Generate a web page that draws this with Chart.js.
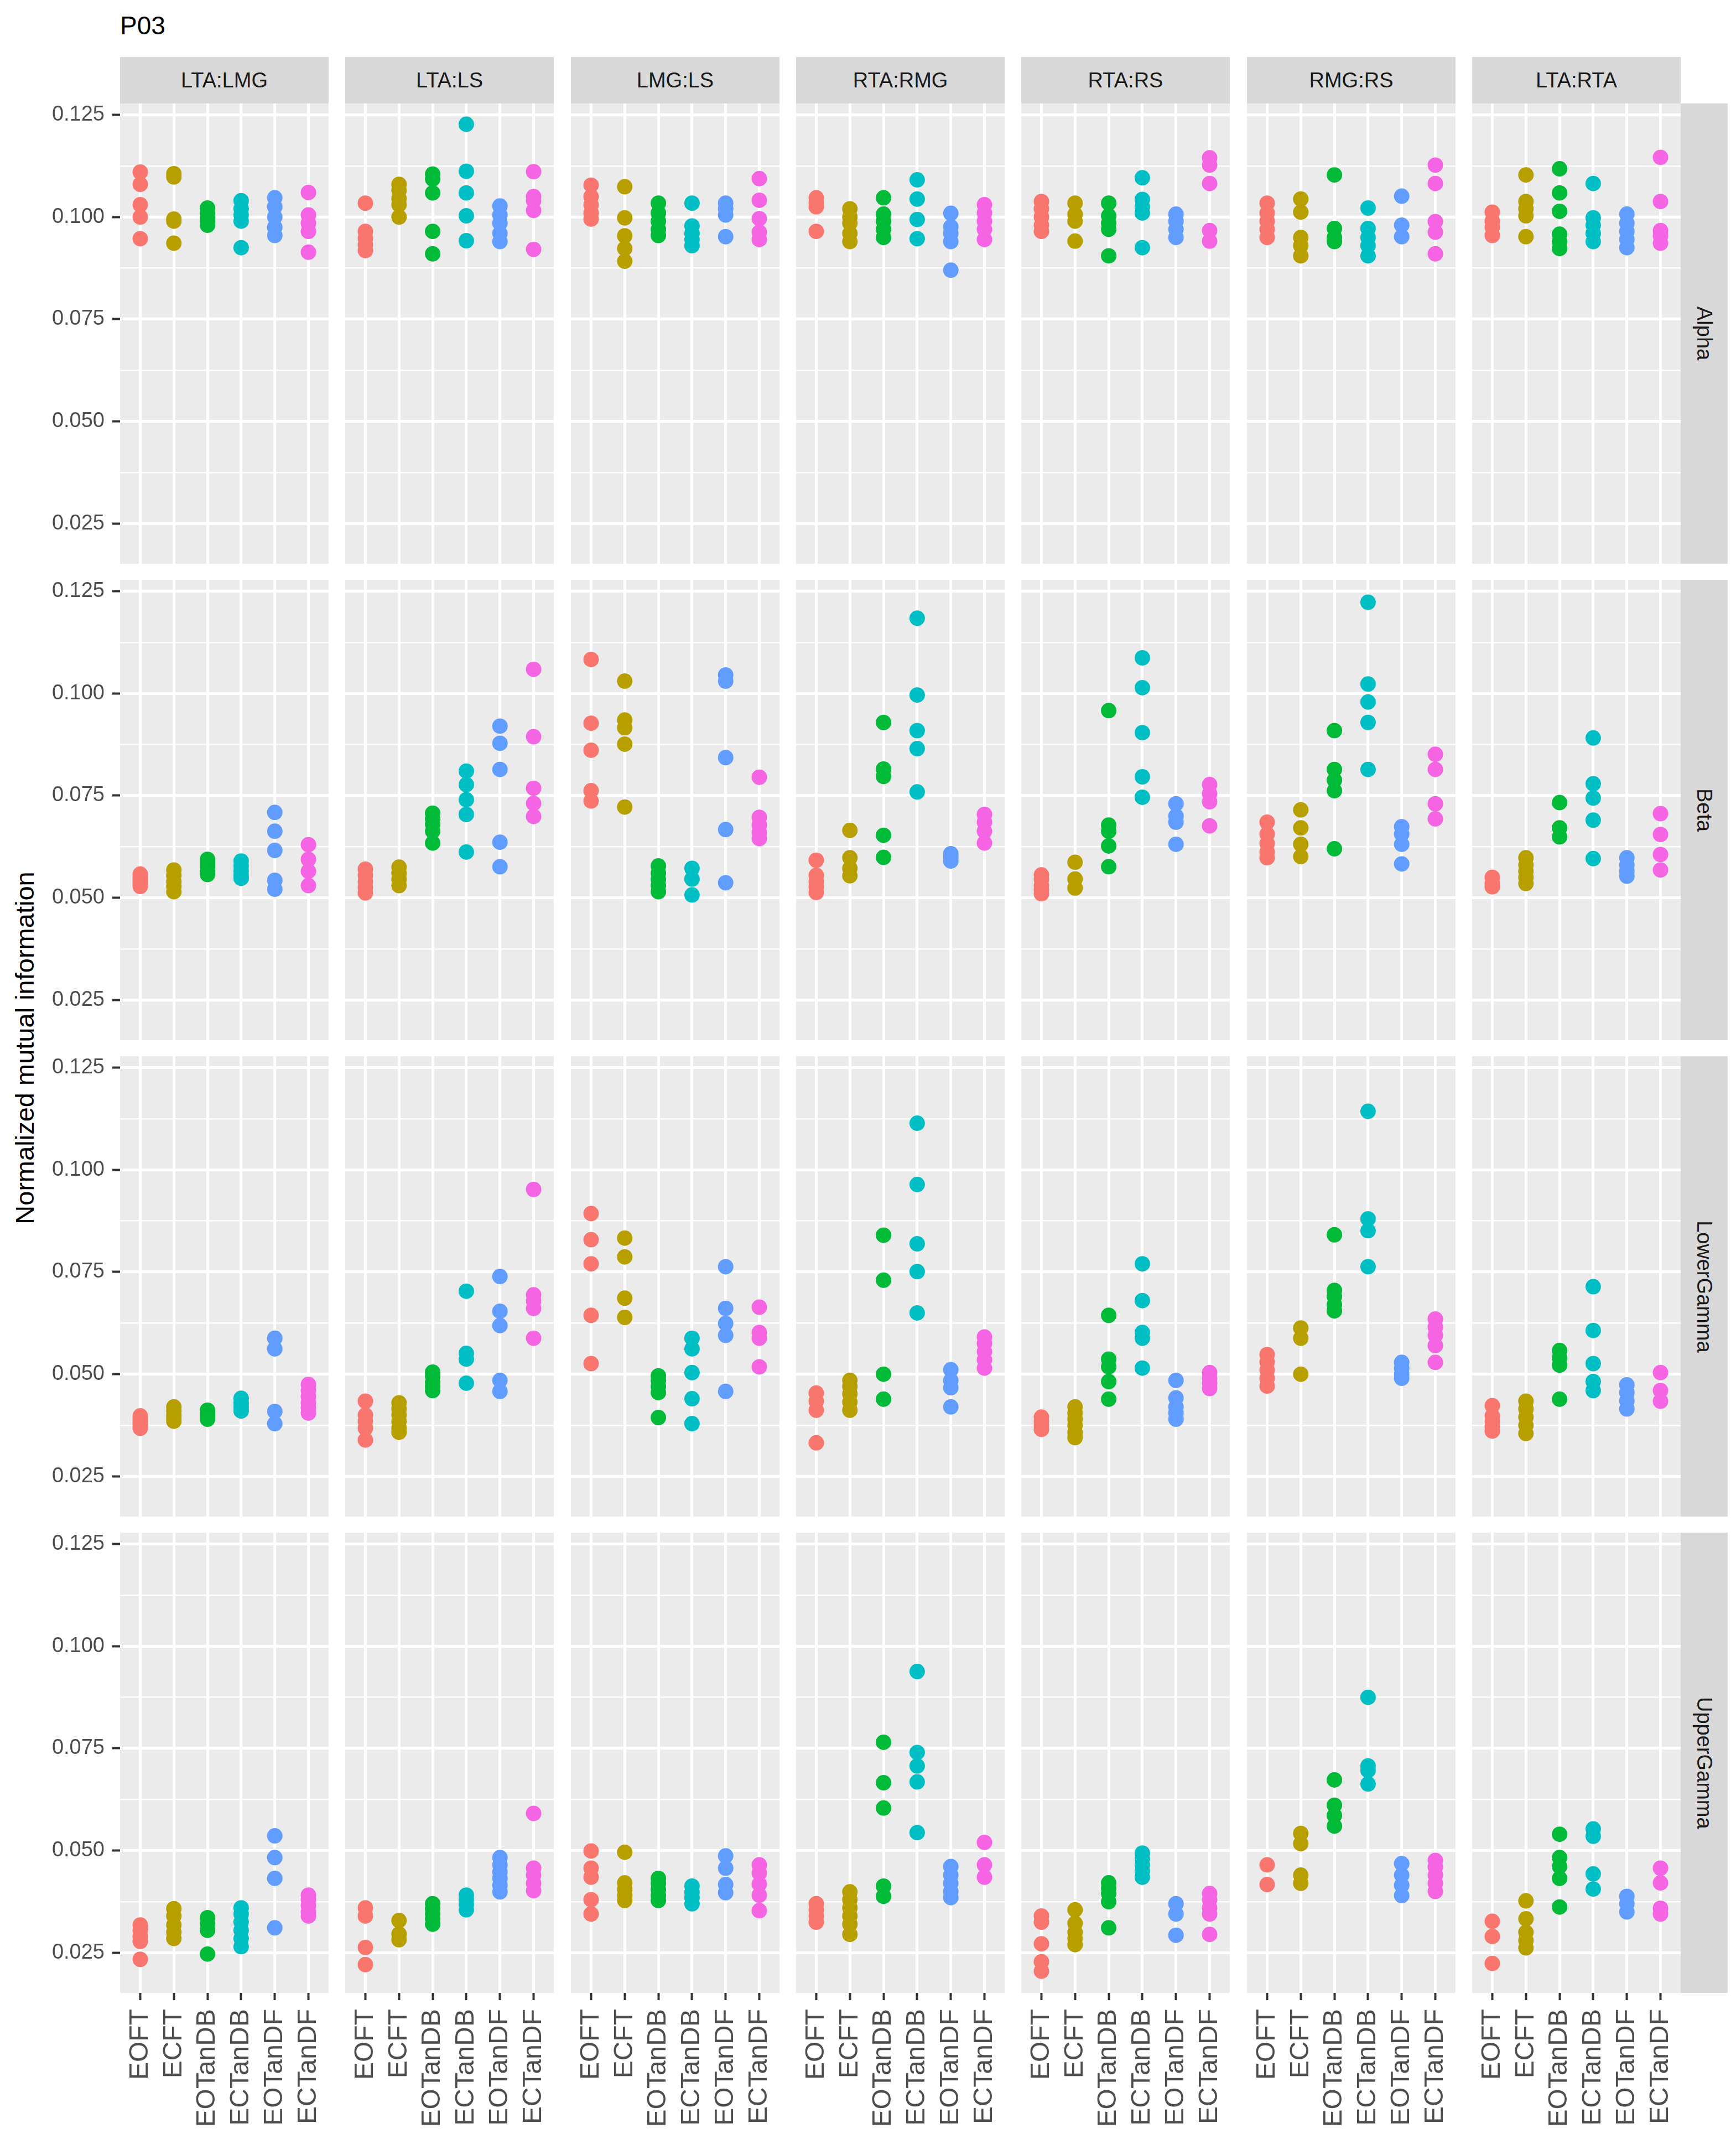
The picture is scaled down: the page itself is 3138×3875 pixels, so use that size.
<!DOCTYPE html>
<html>
<head>
<meta charset="utf-8">
<title>P03</title>
<script src="https://cdn.jsdelivr.net/npm/chart.js@4.4.1/dist/chart.umd.min.js"></script>
<style>
html, body { margin: 0; padding: 0; background: #ffffff; }
#page {
    position: relative;
    width: 3138px;
    height: 3875px;
    overflow: hidden;
    font-family: "Liberation Sans", Arial, Helvetica, sans-serif;
}
#page canvas { position: absolute; }
.title { position: absolute; left: 217px; top: 23px; font-size: 46px; line-height: 1; color: #000; }
.strip-top {
    position: absolute; background: #d9d9d9; color: #1a1a1a; font-size: 38px;
    display: flex; align-items: center; justify-content: center;
}
.strip-right {
    position: absolute; background: #d9d9d9; color: #1a1a1a; font-size: 38px;
    display: flex; align-items: center; justify-content: center;
}
.strip-right span { writing-mode: vertical-rl; }
.ytitle {
    position: absolute; left: 44px; top: 1894px; font-size: 47px; color: #000;
    white-space: nowrap; transform: translate(-50%, -50%) rotate(-90deg);
}
</style>
</head>
<body>
<div id="page">
    <div class="title">P03</div>
    <div class="ytitle">Normalized mutual information</div>
</div>

<script>

const categories = ["EOFT", "ECFT", "EOTanDB", "ECTanDB", "EOTanDF", "ECTanDF"];
const pairs = ["LTA:LMG", "LTA:LS", "LMG:LS", "RTA:RMG", "RTA:RS", "RMG:RS", "LTA:RTA"];
const bands = ["Alpha", "Beta", "LowerGamma", "UpperGamma"];
const yTicks = [0.025, 0.0375, 0.05, 0.0625, 0.075, 0.0875, 0.1, 0.1125, 0.125];
const yLimits = [0.01518, 0.12778];
const groupColours = ["#F8766D", "#B79F00", "#00BA38", "#00BFC4", "#619CFF", "#F564E3"];

// one array per panel, one list per category (EOFT ... ECTanDF)

// Alpha
const alphaLTA_LMG = [
    [0.111, 0.108, 0.103, 0.100, 0.0947],
    [0.1106, 0.1098, 0.0995, 0.0990, 0.0936],
    [0.1022, 0.1010, 0.0998, 0.0990, 0.0980],
    [0.1040, 0.1020, 0.1005, 0.0990, 0.0925],
    [0.1047, 0.1025, 0.1000, 0.0975, 0.0955],
    [0.106, 0.1005, 0.0985, 0.0965, 0.0914]
];
const alphaLTA_LS = [
    [0.1034, 0.0965, 0.0948, 0.0932, 0.0918],
    [0.1080, 0.1065, 0.1045, 0.1030, 0.1000],
    [0.1105, 0.1093, 0.1059, 0.0965, 0.0910],
    [0.1227, 0.1112, 0.1059, 0.1003, 0.0942],
    [0.1027, 0.1005, 0.0985, 0.0960, 0.0940],
    [0.1111, 0.1050, 0.1040, 0.1016, 0.0921]
];
const alphaLMG_LS = [
    [0.1078, 0.1050, 0.1030, 0.1010, 0.0995],
    [0.1074, 0.0998, 0.0954, 0.0923, 0.0892],
    [0.1034, 0.1010, 0.0990, 0.0970, 0.0955],
    [0.1034, 0.0978, 0.0960, 0.0945, 0.0930],
    [0.1034, 0.1020, 0.1005, 0.0952],
    [0.1094, 0.1041, 0.0996, 0.0963, 0.0945]
];
const alphaRTA_RMG = [
    [0.1047, 0.1035, 0.1025, 0.0965],
    [0.1020, 0.1000, 0.0985, 0.0960, 0.0940],
    [0.1047, 0.1007, 0.0990, 0.0970, 0.0950],
    [0.1091, 0.1044, 0.0994, 0.0947],
    [0.1009, 0.0976, 0.0960, 0.0940, 0.0870],
    [0.1030, 0.1010, 0.0990, 0.0970, 0.0945]
];
const alphaRTA_RS = [
    [0.1038, 0.1020, 0.1000, 0.0980, 0.0965],
    [0.1034, 0.1007, 0.0990, 0.0941],
    [0.1034, 0.1003, 0.0985, 0.0970, 0.0905],
    [0.1096, 0.1043, 0.1025, 0.1010, 0.0925],
    [0.1007, 0.0990, 0.0970, 0.0950],
    [0.1145, 0.1127, 0.1082, 0.0967, 0.0941]
];
const alphaRMG_RS = [
    [0.1034, 0.1010, 0.0990, 0.0970, 0.0950],
    [0.1044, 0.1012, 0.0950, 0.0930, 0.0905],
    [0.1103, 0.0972, 0.0950, 0.0940],
    [0.1022, 0.0972, 0.0950, 0.0930, 0.0905],
    [0.1051, 0.0980, 0.0952],
    [0.1127, 0.1082, 0.0989, 0.0963, 0.0910]
];
const alphaLTA_RTA = [
    [0.1012, 0.0990, 0.0975, 0.0955],
    [0.1103, 0.1038, 0.1020, 0.1003, 0.0952],
    [0.1118, 0.1059, 0.1014, 0.0958, 0.0940, 0.0923],
    [0.1082, 0.0998, 0.0980, 0.0960, 0.0940],
    [0.1007, 0.0985, 0.0965, 0.0945, 0.0925],
    [0.1146, 0.1038, 0.0967, 0.0954, 0.0936]
];

// Beta
const betaLTA_LMG = [
    [0.0558, 0.0550, 0.0543, 0.0535, 0.0528],
    [0.0568, 0.0555, 0.0540, 0.0528, 0.0515],
    [0.0594, 0.0585, 0.0576, 0.0565, 0.0557],
    [0.0590, 0.0578, 0.0566, 0.0555, 0.0548],
    [0.0709, 0.0663, 0.0616, 0.0543, 0.0521],
    [0.0630, 0.0594, 0.0565, 0.0530]
];
const betaLTA_LS = [
    [0.0570, 0.0555, 0.0540, 0.0525, 0.0512],
    [0.0575, 0.0560, 0.0545, 0.0530],
    [0.0707, 0.0693, 0.0680, 0.0663, 0.0634],
    [0.0810, 0.0777, 0.0740, 0.0704, 0.0612],
    [0.0920, 0.0878, 0.0814, 0.0636, 0.0576],
    [0.1059, 0.0894, 0.0768, 0.0731, 0.0699]
];
const betaLMG_LS = [
    [0.1083, 0.0927, 0.0861, 0.0762, 0.0737],
    [0.1030, 0.0935, 0.0916, 0.0876, 0.0722],
    [0.0578, 0.0560, 0.0545, 0.0530, 0.0515],
    [0.0572, 0.0546, 0.0507],
    [0.1045, 0.1030, 0.0843, 0.0667, 0.0537],
    [0.0795, 0.0697, 0.0678, 0.0660, 0.0645]
];
const betaRTA_RMG = [
    [0.0592, 0.0555, 0.0540, 0.0527, 0.0513],
    [0.0665, 0.0598, 0.0572, 0.0554],
    [0.0929, 0.0815, 0.0797, 0.0653, 0.0599],
    [0.1184, 0.0996, 0.0909, 0.0865, 0.0759],
    [0.0608, 0.0600, 0.0590],
    [0.0704, 0.0685, 0.0663, 0.0634]
];
const betaRTA_RS = [
    [0.0556, 0.0545, 0.0530, 0.0520, 0.0510],
    [0.0587, 0.0546, 0.0524],
    [0.0958, 0.0678, 0.0663, 0.0627, 0.0576],
    [0.1087, 0.1014, 0.0904, 0.0796, 0.0746],
    [0.0730, 0.0700, 0.0685, 0.0631],
    [0.0777, 0.0755, 0.0735, 0.0676]
];
const betaRMG_RS = [
    [0.0685, 0.0656, 0.0633, 0.0612, 0.0598],
    [0.0715, 0.0671, 0.0631, 0.0601],
    [0.0909, 0.0814, 0.0788, 0.0762, 0.0620],
    [0.1223, 0.1023, 0.0979, 0.0929, 0.0814],
    [0.0674, 0.0656, 0.0631, 0.0583],
    [0.0851, 0.0814, 0.0730, 0.0693]
];
const betaLTA_RTA = [
    [0.0550, 0.0535, 0.0527],
    [0.0598, 0.0580, 0.0565, 0.0550, 0.0535],
    [0.0733, 0.0671, 0.0649],
    [0.0891, 0.0779, 0.0744, 0.0690, 0.0596],
    [0.0598, 0.0580, 0.0565, 0.0553],
    [0.0706, 0.0655, 0.0606, 0.0568]
];

// LowerGamma
const lowGammaLTA_LMG = [
    [0.0398, 0.0390, 0.0382, 0.0375, 0.0368],
    [0.0420, 0.0410, 0.0400, 0.0392, 0.0385],
    [0.0412, 0.0405, 0.0398, 0.0390],
    [0.0441, 0.0430, 0.0420, 0.0410],
    [0.0588, 0.0562, 0.0409, 0.0379],
    [0.0475, 0.0460, 0.0445, 0.0430, 0.0418, 0.0405]
];
const lowGammaLTA_LS = [
    [0.0434, 0.0400, 0.0385, 0.0368, 0.0339],
    [0.0430, 0.0415, 0.0400, 0.0385, 0.0368, 0.0358],
    [0.0505, 0.0495, 0.0480, 0.0470, 0.0460],
    [0.0703, 0.0551, 0.0537, 0.0478],
    [0.0739, 0.0654, 0.0619, 0.0485, 0.0458],
    [0.0952, 0.0694, 0.0679, 0.0661, 0.0588]
];
const lowGammaLMG_LS = [
    [0.0893, 0.0829, 0.0770, 0.0644, 0.0526],
    [0.0833, 0.0787, 0.0686, 0.0639],
    [0.0496, 0.0485, 0.0470, 0.0455, 0.0394],
    [0.0588, 0.0562, 0.0504, 0.0440, 0.0379],
    [0.0763, 0.0661, 0.0624, 0.0595, 0.0458],
    [0.0664, 0.0602, 0.0588, 0.0518]
];
const lowGammaRTA_RMG = [
    [0.0454, 0.0434, 0.0412, 0.0332],
    [0.0485, 0.0470, 0.0452, 0.0432, 0.0412],
    [0.0840, 0.0730, 0.0500, 0.0439],
    [0.1114, 0.0964, 0.0819, 0.0751, 0.0650],
    [0.0511, 0.0485, 0.0467, 0.0420],
    [0.0591, 0.0575, 0.0555, 0.0535, 0.0515]
];
const lowGammaRTA_RS = [
    [0.0395, 0.0385, 0.0375, 0.0365],
    [0.0420, 0.0405, 0.0390, 0.0375, 0.0358, 0.0345],
    [0.0644, 0.0537, 0.0518, 0.0482, 0.0439],
    [0.0770, 0.0680, 0.0602, 0.0588, 0.0515],
    [0.0485, 0.0442, 0.0420, 0.0405, 0.0390],
    [0.0504, 0.0490, 0.0478, 0.0465]
];
const lowGammaRMG_RS = [
    [0.0548, 0.0530, 0.0510, 0.0490, 0.0471],
    [0.0613, 0.0588, 0.0500],
    [0.0841, 0.0705, 0.0690, 0.0670, 0.0655],
    [0.1143, 0.0880, 0.0851, 0.0763],
    [0.0529, 0.0515, 0.0500, 0.0490],
    [0.0635, 0.0615, 0.0595, 0.0570, 0.0529]
];
const lowGammaLTA_RTA = [
    [0.0423, 0.0398, 0.0385, 0.0372, 0.0361],
    [0.0434, 0.0415, 0.0395, 0.0375, 0.0355],
    [0.0558, 0.0540, 0.0522, 0.0439],
    [0.0714, 0.0607, 0.0526, 0.0482, 0.0460],
    [0.0474, 0.0455, 0.0435, 0.0415],
    [0.0504, 0.0460, 0.0434]
];

// UpperGamma
const upGammaLTA_LMG = [
    [0.0318, 0.0305, 0.0290, 0.0278, 0.0234],
    [0.0358, 0.0340, 0.0318, 0.0300, 0.0285],
    [0.0336, 0.0320, 0.0305, 0.0247],
    [0.0360, 0.0345, 0.0325, 0.0305, 0.0285, 0.0265],
    [0.0536, 0.0483, 0.0432, 0.0311],
    [0.0391, 0.0380, 0.0365, 0.0350, 0.0340]
];
const upGammaLTA_LS = [
    [0.0360, 0.0340, 0.0263, 0.0221],
    [0.0329, 0.0296, 0.0282],
    [0.0370, 0.0358, 0.0345, 0.0333, 0.0320],
    [0.0391, 0.0380, 0.0368, 0.0355],
    [0.0483, 0.0465, 0.0448, 0.0432, 0.0415, 0.0399],
    [0.0591, 0.0457, 0.0440, 0.0420, 0.0402]
];
const upGammaLMG_LS = [
    [0.0499, 0.0457, 0.0435, 0.0380, 0.0345],
    [0.0496, 0.0421, 0.0405, 0.0390, 0.0378],
    [0.0432, 0.0420, 0.0405, 0.0390, 0.0378],
    [0.0413, 0.0398, 0.0385, 0.0370],
    [0.0487, 0.0457, 0.0417, 0.0397],
    [0.0465, 0.0445, 0.0418, 0.0391, 0.0353]
];
const upGammaRTA_RMG = [
    [0.0370, 0.0355, 0.0340, 0.0325],
    [0.0399, 0.0380, 0.0360, 0.0340, 0.0320, 0.0295],
    [0.0765, 0.0666, 0.0604, 0.0413, 0.0388],
    [0.0938, 0.0740, 0.0707, 0.0668, 0.0544],
    [0.0461, 0.0440, 0.0420, 0.0400, 0.0385],
    [0.0520, 0.0465, 0.0435]
];
const upGammaRTA_RS = [
    [0.0340, 0.0325, 0.0272, 0.0228, 0.0205],
    [0.0355, 0.0322, 0.0300, 0.0285, 0.0270],
    [0.0421, 0.0408, 0.0395, 0.0375, 0.0311],
    [0.0494, 0.0480, 0.0465, 0.0450, 0.0435],
    [0.0370, 0.0345, 0.0293],
    [0.0395, 0.0380, 0.0360, 0.0345, 0.0295]
];
const upGammaRMG_RS = [
    [0.0465, 0.0417],
    [0.0542, 0.0517, 0.0440, 0.0420],
    [0.0673, 0.0611, 0.0586, 0.0560],
    [0.0875, 0.0707, 0.0696, 0.0663],
    [0.0468, 0.0440, 0.0415, 0.0390],
    [0.0476, 0.0460, 0.0440, 0.0420, 0.0400]
];
const upGammaLTA_RTA = [
    [0.0327, 0.0290, 0.0224],
    [0.0377, 0.0333, 0.0300, 0.0280, 0.0262],
    [0.0540, 0.0483, 0.0461, 0.0432, 0.0362],
    [0.0553, 0.0535, 0.0443, 0.0406],
    [0.0388, 0.0370, 0.0350],
    [0.0457, 0.0421, 0.0359, 0.0345]
];

const panelData = {
    Alpha: [alphaLTA_LMG, alphaLTA_LS, alphaLMG_LS, alphaRTA_RMG, alphaRTA_RS, alphaRMG_RS, alphaLTA_RTA],
    Beta: [betaLTA_LMG, betaLTA_LS, betaLMG_LS, betaRTA_RMG, betaRTA_RS, betaRMG_RS, betaLTA_RTA],
    LowerGamma: [lowGammaLTA_LMG, lowGammaLTA_LS, lowGammaLMG_LS, lowGammaRTA_RMG, lowGammaRTA_RS, lowGammaRMG_RS, lowGammaLTA_RTA],
    UpperGamma: [upGammaLTA_LMG, upGammaLTA_LS, upGammaLMG_LS, upGammaRTA_RMG, upGammaRTA_RS, upGammaRMG_RS, upGammaLTA_RTA]
};

// layout (px)
const FONT = "'Liberation Sans', Arial, Helvetica, sans-serif";
const PANEL_X0 = 217;
const PANEL_STEP_X = 407.3;
const PANEL_W = 377;
const PANEL_Y0 = 187;
const PANEL_STEP_Y = 861;
const PANEL_H = 832;
const XAXIS_H = 273;
const STRIP_TOP = 103;
const STRIP_W = 85;

const page = document.getElementById("page");

function isMajor(v) {
    return Math.abs(v * 40 - Math.round(v * 40)) < 1e-6;
}

// grey panel background under the grid
const panelBg = {
    id: "panelBg",
    beforeDraw(chart) {
        const a = chart.chartArea;
        const c = chart.ctx;
        c.save();
        c.fillStyle = "#EBEBEB";
        c.fillRect(a.left, a.top, a.right - a.left, a.bottom - a.top);
        c.restore();
    }
};

// facet strips
pairs.forEach((pair, c) => {
    const left = Math.round(PANEL_X0 + c * PANEL_STEP_X);
    const right = Math.round(PANEL_X0 + c * PANEL_STEP_X + PANEL_W);
    const d = document.createElement("div");
    d.className = "strip-top";
    d.style.left = left + "px";
    d.style.top = STRIP_TOP + "px";
    d.style.width = (right - left) + "px";
    d.style.height = (PANEL_Y0 - STRIP_TOP) + "px";
    d.textContent = pair;
    page.appendChild(d);
});

const stripX = Math.round(PANEL_X0 + (pairs.length - 1) * PANEL_STEP_X + PANEL_W);

bands.forEach((band, r) => {
    const top = Math.round(PANEL_Y0 + r * PANEL_STEP_Y);
    const d = document.createElement("div");
    d.className = "strip-right";
    d.style.left = stripX + "px";
    d.style.top = top + "px";
    d.style.width = STRIP_W + "px";
    d.style.height = PANEL_H + "px";
    d.innerHTML = "<span>" + band + "</span>";
    page.appendChild(d);
});

// one chart per panel
bands.forEach((band, r) => {

    pairs.forEach((pair, c) => {

        const left = Math.round(PANEL_X0 + c * PANEL_STEP_X);
        const right = Math.round(PANEL_X0 + c * PANEL_STEP_X + PANEL_W);
        const top = Math.round(PANEL_Y0 + r * PANEL_STEP_Y);
        const bottom = Math.round(PANEL_Y0 + r * PANEL_STEP_Y + PANEL_H);

        const showY = c === 0;
        const showX = r === bands.length - 1;

        const cl = showY ? 0 : left;
        const cw = right - cl;
        const ch = bottom - top + (showX ? XAXIS_H : 0);

        const canvas = document.createElement("canvas");
        canvas.width = cw;
        canvas.height = ch;
        canvas.style.left = cl + "px";
        canvas.style.top = top + "px";
        canvas.style.width = cw + "px";
        canvas.style.height = ch + "px";
        page.appendChild(canvas);

        const groups = panelData[band][c];

        new Chart(canvas, {
            type: "scatter",
            data: {
                datasets: groups.map((vals, i) => ({
                    label: categories[i],
                    data: vals.map(v => ({ x: i + 1, y: v })),
                    backgroundColor: groupColours[i],
                    borderWidth: 0,
                    pointRadius: 14,
                    pointHoverRadius: 14
                }))
            },
            options: {
                responsive: false,
                animation: false,
                devicePixelRatio: 1,
                events: [],
                layout: { padding: 0, autoPadding: false },
                plugins: {
                    legend: { display: false },
                    tooltip: { enabled: false }
                },
                scales: {
                    x: {
                        type: "linear",
                        min: 0.4,
                        max: 6.6,
                        afterBuildTicks: s => {
                            s.ticks = categories.map((_, i) => ({ value: i + 1 }));
                        },
                        afterFit: s => {
                            s.height = showX ? XAXIS_H : 0;
                            s.paddingLeft = 0;
                            s.paddingRight = 0;
                        },
                        border: { display: false },
                        grid: {
                            color: "#FFFFFF",
                            lineWidth: 5,
                            drawTicks: showX,
                            tickLength: 13,
                            tickWidth: 4,
                            tickColor: "#333333"
                        },
                        ticks: {
                            display: showX,
                            autoSkip: false,
                            minRotation: 90,
                            maxRotation: 90,
                            padding: 16,
                            color: "#4D4D4D",
                            font: { family: FONT, size: 48 },
                            callback: v => categories[Math.round(v) - 1]
                        }
                    },
                    y: {
                        type: "linear",
                        min: yLimits[0],
                        max: yLimits[1],
                        afterBuildTicks: s => {
                            s.ticks = yTicks.map(v => ({ value: v }));
                        },
                        afterFit: s => {
                            s.width = showY ? left : 0;
                            s.paddingTop = 0;
                            s.paddingBottom = 0;
                        },
                        border: { display: false },
                        grid: {
                            color: "#FFFFFF",
                            lineWidth: ctx => (ctx.tick && !isMajor(ctx.tick.value)) ? 2.6 : 5,
                            drawTicks: showY,
                            tickLength: 14,
                            tickWidth: 4,
                            tickColor: ctx => (ctx.tick && isMajor(ctx.tick.value)) ? "#333333" : "rgba(0,0,0,0)"
                        },
                        ticks: {
                            display: showY,
                            padding: 14,
                            color: "#4D4D4D",
                            font: { family: FONT, size: 38 },
                            callback: v => isMajor(v) ? v.toFixed(3) : ""
                        }
                    }
                }
            },
            plugins: [panelBg]
        });

    });

});
</script>
</body>
</html>
